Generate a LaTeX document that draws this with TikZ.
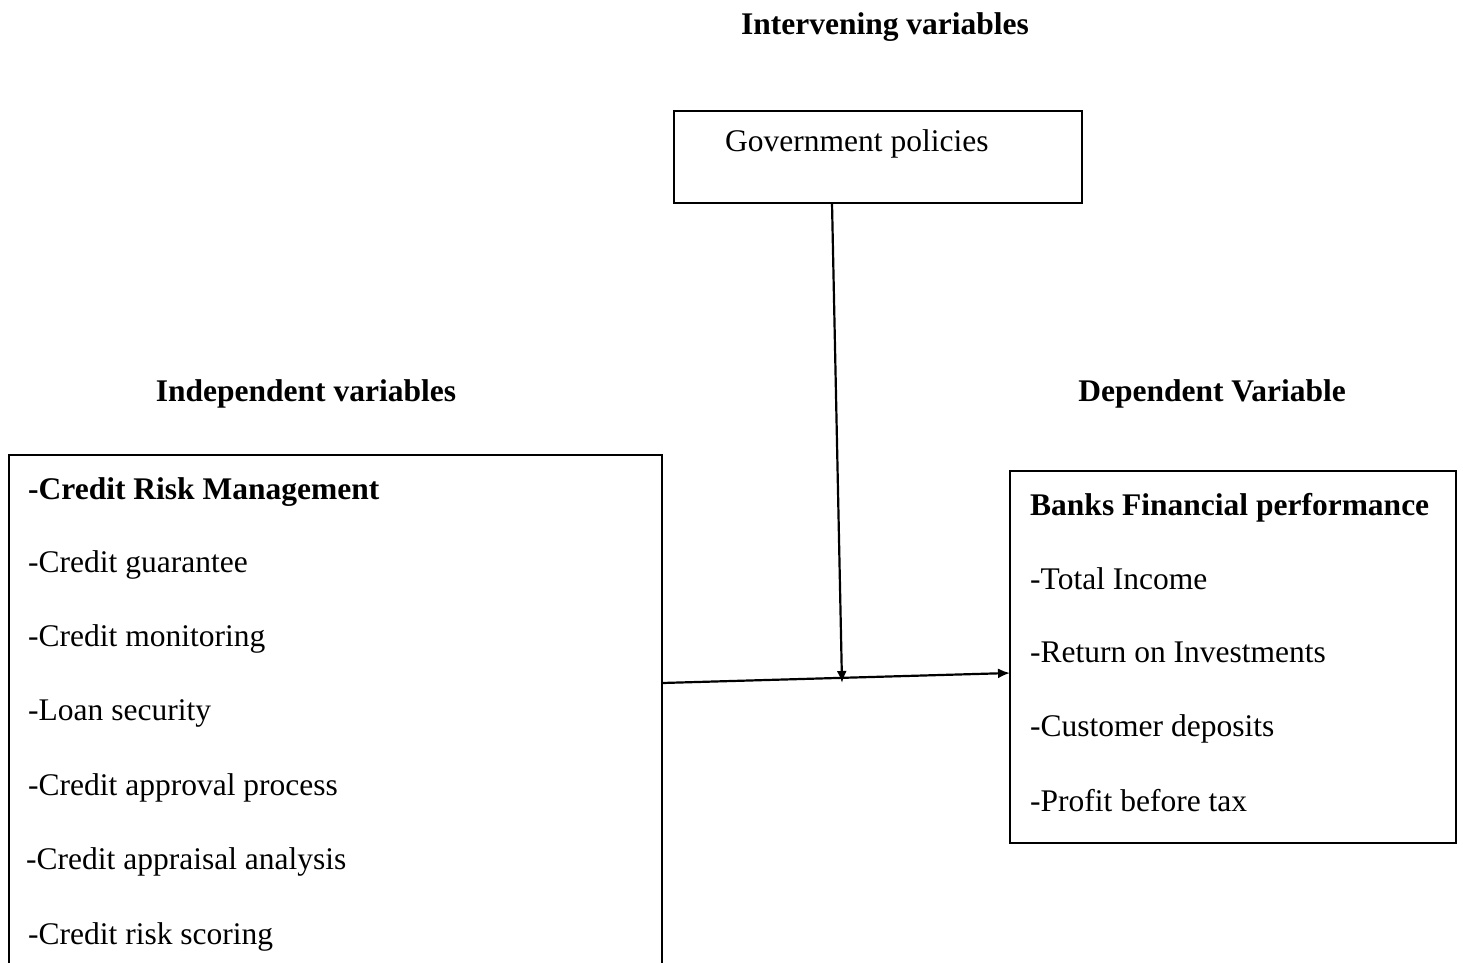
\documentclass[tikz,border=0pt]{standalone}
\usepackage{fontspec}
\setmainfont{Liberation Serif}
\usetikzlibrary{arrows.meta}
\begin{document}
\begin{tikzpicture}[x=1pt,y=-1pt,
  box/.style={draw,line width=1.8pt,inner sep=0pt},
  txt/.style={anchor=base west,inner sep=0pt,font=\fontsize{31.5}{38}\selectfont},
  btxt/.style={txt,font=\fontsize{31.5}{38}\selectfont\bfseries},
  title/.style={anchor=base,inner sep=0pt,font=\fontsize{31.5}{38}\selectfont\bfseries},
  conn/.style={line width=2.2pt,-{Latex[length=12pt,width=10pt]}}]
\useasboundingbox (0,0) rectangle (1463,962);
\clip (0,0) rectangle (1463,962);
% titles
\node[title] (tint) at (885,34) {Intervening variables};
\node[title] (tind) at (306,401) {Independent variables};
\node[title] (tdep) at (1212,401) {Dependent Variable};
% government box
\draw[box] (674,111) rectangle (1082,203);
\coordinate (govS) at (832,203);
\node[txt] (gov) at (725,151) {Government policies};
% left box
\draw[box] (9,455) rectangle (662,1000);
\coordinate (leftE) at (662,683);
\node[btxt] (l0) at (28,499) {-Credit Risk Management};
\node[txt] (l1) at (28,572) {-Credit guarantee};
\node[txt] (l2) at (28,646) {-Credit monitoring};
\node[txt] (l3) at (28,720) {-Loan security};
\node[txt] (l4) at (28,795) {-Credit approval process};
\node[txt] (l5) at (26,869) {-Credit appraisal analysis};
\node[txt] (l6) at (28,944) {-Credit risk scoring};
% right box
\draw[box] (1010,471) rectangle (1456,843);
\coordinate (rightW) at (1010,673);
\node[btxt] (r0) at (1030,515) {Banks Financial performance};
\node[txt] (r1) at (1030,589) {-Total Income};
\node[txt] (r2) at (1030,662) {-Return on Investments};
\node[txt] (r3) at (1030,736) {-Customer deposits};
\node[txt] (r4) at (1030,811) {-Profit before tax};
% connectors
\coordinate (meet) at (842,683);
\draw[conn] (leftE) -- (rightW);
\draw[conn] (govS) -- (meet);
\end{tikzpicture}
\end{document}
